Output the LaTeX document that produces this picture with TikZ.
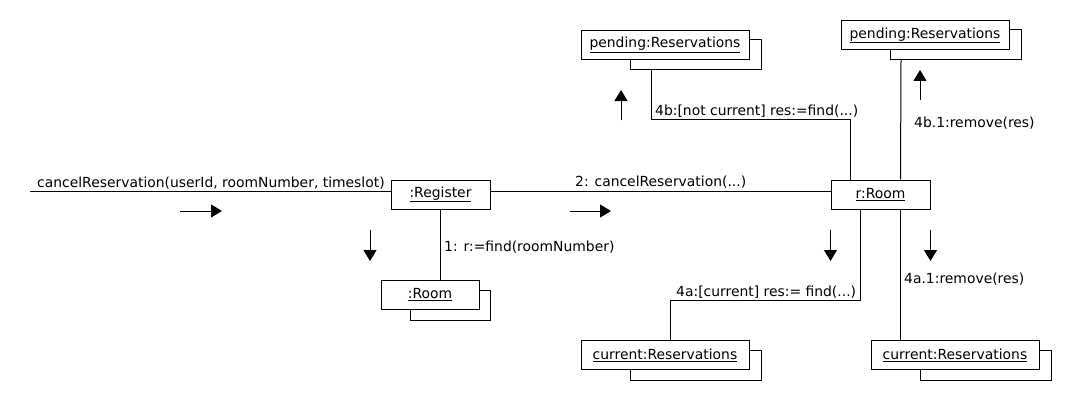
\documentclass[tikz,border=0pt]{standalone}
\usepackage{fontspec}
\setmainfont{DejaVu Sans}
\usetikzlibrary{arrows.meta,calc}

\tikzset{
    obj/.style={draw=black, fill=white, line width=1pt, inner sep=0pt,
        minimum height=29pt, font=\fontsize{13.9}{16}\selectfont},
    back/.style={draw=black, fill=white, line width=1pt},
    link/.style={draw=black, line width=1pt},
    msg/.style={line width=1pt, -{Triangle[length=11pt,width=13pt]}},
    lbl/.style={anchor=base west, inner sep=0pt, font=\fontsize{13.9}{16}\selectfont}
}

\begin{document}
\begin{tikzpicture}[x=1pt, y=-1pt]
        \useasboundingbox (0,0) rectangle (1090,420);

        % back copies of the multi-objects
        \filldraw [back] (410,290) rectangle (490,320);
        \filldraw [back] (630,40) rectangle (761,70);
        \filldraw [back] (890,30) rectangle (1021,60);
        \filldraw [back] (630,350) rectangle (761,380);
        \filldraw [back] (920,350) rectangle (1051,380);
        \coordinate (pendback) at (651,70);
        \coordinate (pendbackr) at (901,60);

        % objects
        \node [obj, minimum width=99pt] (register) at (440.5,194.5) {\underline{:Register}};
        \node [obj, minimum width=99pt] (rroom) at (880.5,194.5) {\underline{r:Room}};
        \node [obj, minimum width=98pt] (room) at (430,295) {\underline{:Room}};
        \node [obj, minimum width=168pt] (pendl) at (665,45) {\underline{pending:Reservations}};
        \node [obj, minimum width=168pt] (pendr) at (925,35.5) {\underline{pending:Reservations}};
        \node [obj, minimum width=168pt] (curl) at (665,355) {\underline{current:Reservations}};
        \node [obj, minimum width=168pt] (curr) at (955,355) {\underline{current:Reservations}};

        % bend points
        \coordinate (start) at (30,191);
        \coordinate (k1) at (651,119.5);
        \coordinate (k2) at (850.5,119.5);
        \coordinate (k3) at (900.5,120);
        \coordinate (k4) at (860.5,300);
        \coordinate (k5) at (670.5,300);

        % links
        \draw [link] (start) -- (register.west |- start);
        \draw [link] (register.east |- start) -- (rroom.west |- start);
        \draw [link] (register.south) -- (register.south |- room.north);
        \draw [link] (pendback) -- (k1) -- (k2) -- (rroom.north -| k2);
        \draw [link] (pendbackr) -- (rroom.north -| k3);
        \draw [link] (rroom.south -| k4) -- (k4) -- (k5) -- (curl.north -| k5);
        \draw [link] (rroom.south -| k3) -- (curr.north -| k3);

        % messages
        \node [lbl] (m0) at (37,187) {cancelReservation(userId, roomNumber, timeslot)};
        \node [lbl] (m2) at (575,186) {2: cancelReservation(...)};
        \node [lbl] (m1) at (444,251) {1: r:=find(roomNumber)};
        \node [lbl] (m4b) at (655,115) {4b:[not current] res:=find(...)};
        \node [lbl] (m4b1) at (914,128) {4b.1:remove(res)};
        \node [lbl] (m4a) at (676,296) {4a:[current] res:= find(...)};
        \node [lbl] (m4a1) at (904,283) {4a.1:remove(res)};

        % direction arrows
        \draw [msg] (180,211) -- (222,211);
        \draw [msg] (570,211) -- (611,211);
        \draw [msg] (370,230) -- (370,261);
        \draw [msg] (621,120) -- (621,90);
        \draw [msg] (920,100) -- (920,70);
        \draw [msg] (830.5,230) -- (830.5,261);
        \draw [msg] (930.5,230) -- (930.5,261);
    \end{tikzpicture}
\end{document}
